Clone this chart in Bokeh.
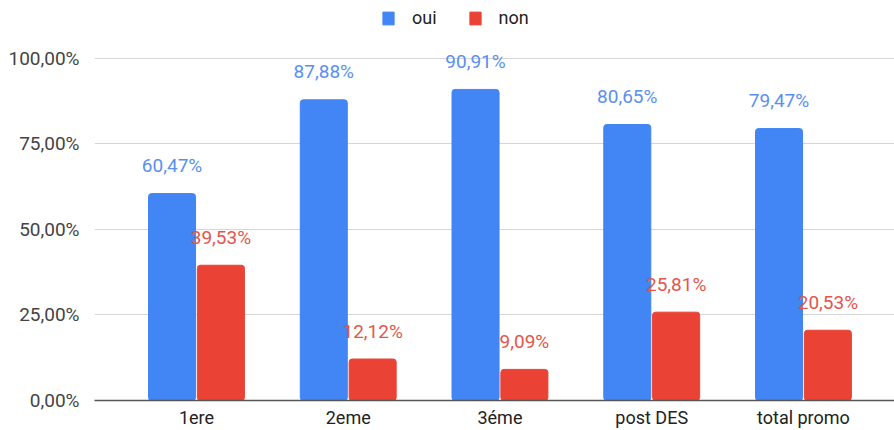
from bokeh.plotting import figure
from bokeh.models import ColumnDataSource, FixedTicker, Legend, LegendItem, Range1d
from bokeh.core.properties import value
from bokeh.embed import file_html
from bokeh.resources import INLINE

categories = ["1ere", "2eme", "3éme", "post DES", "total promo"]
oui = [60.47, 87.88, 90.91, 80.65, 79.47]
non = [39.53, 12.12, 9.09, 25.81, 20.53]
oui_labels = ["60,47%", "87,88%", "90,91%", "80,65%", "79,47%"]
non_labels = ["39,53%", "12,12%", "9,09%", "25,81%", "20,53%"]
y_ticks = [0, 25, 50, 75, 100]
y_tick_labels = ["0,00%", "25,00%", "50,00%", "75,00%", "100,00%"]

BLUE = "#4285F4"
RED = "#EA4335"
FONT = "Roboto"

xs = list(range(len(categories)))
src = ColumnDataSource(dict(
    x_oui=[x - 0.161 for x in xs],
    x_non=[x + 0.161 for x in xs],
    oui=oui, non=non, oui_lab=oui_labels, non_lab=non_labels,
))

p = figure(width=894, height=430, output_backend="svg", toolbar_location=None,
           x_range=Range1d(-0.672, 4.600), y_range=Range1d(0, 116.9),
           min_border_left=94, min_border_right=0, min_border_top=0, min_border_bottom=30)
p.outline_line_color = None
p.background_fill_color = "white"

r1 = p.vbar(x="x_oui", top="oui", width=0.31, source=src, color=BLUE, border_radius=3)
r2 = p.vbar(x="x_non", top="non", width=0.31, source=src, color=RED, border_radius=3)

p.text(x="x_oui", y="oui", text="oui_lab", source=src, text_align="center", text_baseline="middle",
       y_offset=-28, text_font=value(FONT), text_font_size="19px", text_color="#5a8ff0")
p.text(x="x_non", y="non", text="non_lab", source=src, text_align="center", text_baseline="middle",
       y_offset=-28, text_font=value(FONT), text_font_size="19px", text_color="#e5554a")

# axes
p.xaxis.ticker = FixedTicker(ticks=xs)
p.xaxis.major_label_overrides = {i: c for i, c in enumerate(categories)}
p.xaxis.axis_line_color = "#555555"
p.xaxis.axis_line_width = 1.5
p.xaxis.major_tick_line_color = None
p.xaxis.minor_tick_line_color = None
p.xaxis.major_label_text_font = FONT
p.xaxis.major_label_text_font_size = "18px"
p.xaxis.major_label_text_color = "#222222"
p.xaxis.major_label_standoff = 0

p.yaxis.ticker = FixedTicker(ticks=y_ticks)
p.yaxis.major_label_overrides = {t: l for t, l in zip(y_ticks, y_tick_labels)}
p.yaxis.axis_line_color = None
p.yaxis.major_tick_line_color = None
p.yaxis.minor_tick_line_color = None
p.yaxis.major_label_text_font = FONT
p.yaxis.major_label_text_font_size = "19px"
p.yaxis.major_label_text_color = "#444444"
p.yaxis.major_label_standoff = 9

p.xgrid.grid_line_color = None
p.ygrid.ticker = FixedTicker(ticks=y_ticks[1:])
p.ygrid.grid_line_color = "#d6d6d6"

legend = Legend(items=[LegendItem(label="oui", renderers=[r1]), LegendItem(label="non", renderers=[r2])],
                orientation="horizontal", location=(287, 372), padding=0, margin=0, spacing=31,
                glyph_width=14, glyph_height=16, label_height=20, label_standoff=17,
                label_text_font=FONT, label_text_font_size="18px", label_text_color="#222222",
                border_line_color=None, background_fill_alpha=0)
p.add_layout(legend, "center")

open("out.html", "w").write(file_html(p, INLINE))
